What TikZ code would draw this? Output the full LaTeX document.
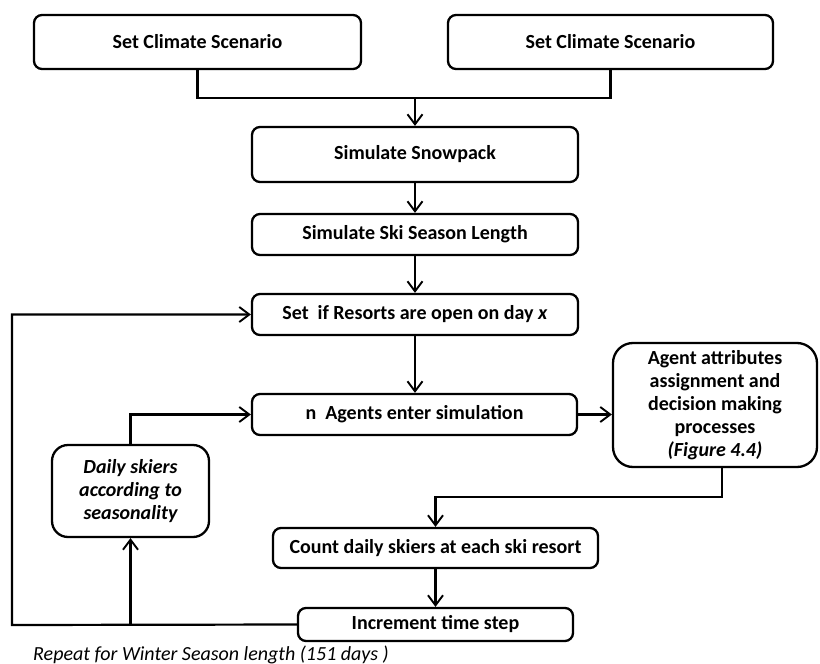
\documentclass[tikz,border=0pt]{standalone}
\usepackage{fontspec}
\setmainfont{Carlito}
\usetikzlibrary{arrows.meta,calc}
\begin{document}
\begin{tikzpicture}[x=1pt,y=-1pt,
  box/.style={draw=black,line width=2.3pt,rounded corners=8pt,fill=white,
    align=center,inner sep=0pt,font=\fontsize{20}{23}\selectfont\bfseries},
  arr/.style={line width=2.2pt,-{Straight Barb[length=10pt,width=15pt,line width=1.9pt]}},
  ln/.style={line width=2.2pt}]
\useasboundingbox (0,0) rectangle (820,664);
\node[box,minimum width=327pt,minimum height=54pt] (A) at (197.5,42) {Set Climate Scenario};
\node[box,minimum width=325pt,minimum height=54pt] (B) at (610.5,42) {Set Climate Scenario};
\node[box,minimum width=326pt,minimum height=55pt] (snow) at (415,154.5) {Simulate Snowpack};
\node[box,minimum width=326pt,minimum height=41pt] (season) at (415,234.5) {Simulate Ski Season Length};
\node[box,minimum width=326pt,minimum height=41pt] (setif) at (415,314.5) {Set\ \ if Resorts are open on day \textit{x}};
\node[box,minimum width=325pt,minimum height=41pt] (nag) at (414.5,414.5) {n\ \ Agents enter simulation};
\node[box,minimum width=204pt,minimum height=124pt,rounded corners=20pt] (agent) at (715,405)
  {Agent attributes\\assignment and\\decision making\\processes\\\textit{(Figure 4.4)}};
\node[box,minimum width=157pt,minimum height=92pt,rounded corners=16pt,font=\fontsize{20}{23}\selectfont\bfseries\itshape] (daily) at (130.5,491)
  {Daily skiers\\according to\\seasonality};
\node[box,minimum width=325pt,minimum height=40pt] (count) at (435.5,548) {Count daily skiers at each ski resort};
\node[box,minimum width=275pt,minimum height=33pt] (incr) at (435.5,624.5) {Increment time step};
\node[anchor=west,inner sep=0pt,font=\fontsize{20}{22}\selectfont\itshape] (rep) at (33,655) {Repeat for Winter Season length (151 days )};
% connectors
\coordinate (join) at (415,98);
\coordinate (abot) at (722,467);
\coordinate (loopx) at (12,625);
\coordinate (br) at (130.5,625);
\draw[ln] (A.south) |- (join) -| (B.south);
\draw[arr] (join) -- (snow.north);
\draw[arr] (snow.south) -- (season.north);
\draw[arr] (season.south) -- (setif.north);
\draw[arr] (setif.south) -- (setif.south |- nag.north);
\draw[arr] (nag.east) -- (nag.east -| agent.west);
\draw[arr] (abot) |- (count.north |- 0,497) -- (count.north);
\draw[arr] (count.south) -- (incr.north);
\draw[arr] (incr.west) -- (loopx) |- (setif.west);
\draw[arr] (br) -- (daily.south);
\draw[arr] (daily.north) |- (nag.west);
\end{tikzpicture}
\end{document}
